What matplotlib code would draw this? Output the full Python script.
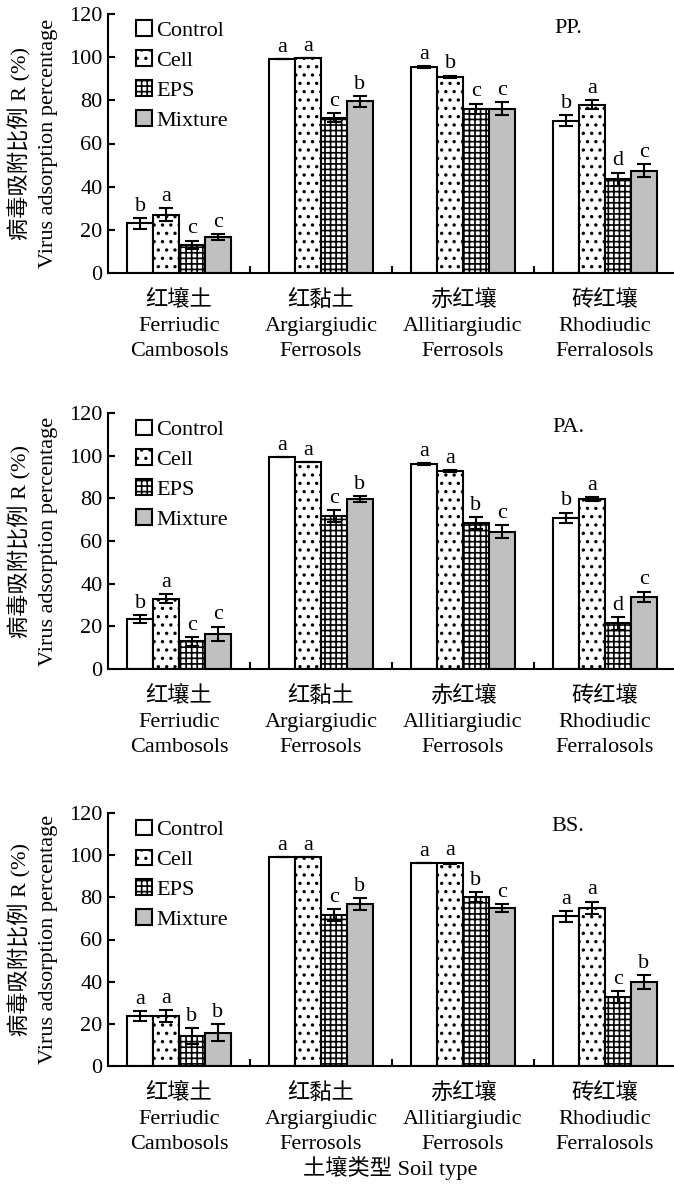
import numpy as np
import matplotlib
matplotlib.use('Agg')
import matplotlib.pyplot as plt

plt.rcParams['font.family'] = ['Liberation Serif', 'Noto Sans CJK SC']
plt.rcParams['hatch.linewidth'] = 1.2
plt.rcParams['font.size'] = 16

# soil types (x categories)
soils = ['红壤土\nFerriudic\nCambosols',
         '红黏土\nArgiargiudic\nFerrosols',
         '赤红壤\nAllitiargiudic\nFerrosols',
         '砖红壤\nRhodiudic\nFerralosols']
treatments = ['Control', 'Cell', 'EPS', 'Mixture']
panel_names = ['PP.', 'PA.', 'BS.']

# values [panel][treatment][soil]
pp_vals = [[23.1, 99.0, 95.5, 70.5],
           [27.0, 99.5, 91.0, 78.0],
           [13.0, 72.0, 76.0, 43.5],
           [16.7, 79.6, 76.0, 47.3]]
pp_errs = [[2.5, 0.0, 0.5, 2.5],
           [3.0, 0.0, 0.5, 2.0],
           [2.0, 2.0, 2.5, 3.0],
           [1.5, 2.5, 3.0, 3.0]]
pp_letters = [['b', 'a', 'a', 'b'],
              ['a', 'a', 'b', 'a'],
              ['c', 'c', 'c', 'd'],
              ['c', 'b', 'c', 'c']]

pa_vals = [[23.4, 99.4, 96.1, 70.8],
           [33.0, 97.0, 92.9, 79.7],
           [13.0, 71.7, 68.4, 21.4],
           [16.4, 79.6, 64.3, 33.8]]
pa_errs = [[2.0, 0.0, 0.3, 2.5],
           [2.0, 0.0, 0.5, 1.0],
           [2.0, 3.0, 3.0, 3.0],
           [3.5, 1.5, 3.0, 2.5]]
pa_letters = [['b', 'a', 'a', 'b'],
              ['a', 'a', 'a', 'a'],
              ['c', 'c', 'b', 'd'],
              ['c', 'b', 'c', 'c']]

bs_vals = [[23.7, 99.0, 96.2, 71.0],
           [23.7, 99.0, 96.2, 75.0],
           [14.2, 71.6, 80.1, 32.7],
           [15.7, 76.8, 75.0, 39.8]]
bs_errs = [[2.5, 0.0, 0.0, 2.5],
           [3.0, 0.0, 0.3, 3.0],
           [4.0, 3.0, 2.5, 3.0],
           [4.0, 3.0, 2.0, 3.5]]
bs_letters = [['a', 'a', 'a', 'a'],
              ['a', 'a', 'a', 'a'],
              ['b', 'c', 'b', 'c'],
              ['b', 'b', 'c', 'b']]

all_vals = [pp_vals, pa_vals, bs_vals]
all_errs = [pp_errs, pa_errs, bs_errs]
all_letters = [pp_letters, pa_letters, bs_letters]

colors = ['white', 'white', 'white', '#c0c0c0']
hatches = [None, '..', '+++', None]

fig = plt.figure(figsize=(6.74, 11.88), dpi=100)
# axes boxes in pixels: (bottom_px, top_px)
boxes = [(273, 14), (669, 413), (1066, 813)]
W, H = 674, 1188
left_px, right_px = 108, 676

x = np.arange(len(soils))
bw = 0.182

for p in range(3):
    b, t = boxes[p]
    ax = fig.add_axes([left_px / W, 1 - b / H, (right_px - left_px) / W, (b - t) / H])
    for i in range(4):
        xs = x + (i - 1.5) * bw
        ax.bar(xs, all_vals[p][i], bw, color=colors[i], edgecolor='black',
               linewidth=1.5, hatch=hatches[i], label=treatments[i], zorder=2)
        ax.errorbar(xs, all_vals[p][i], yerr=all_errs[p][i], fmt='none',
                    ecolor='black', elinewidth=1.5, capsize=5, capthick=1.5, zorder=3)
        for j in range(4):
            ax.text(xs[j], all_vals[p][i][j] + all_errs[p][i][j] + 1.0,
                    all_letters[p][i][j], ha='center', va='bottom', fontsize=16)
    ax.set_xlim(-0.5, 3.5)
    ax.set_ylim(0, 120)
    ax.set_yticks(range(0, 121, 20))
    ax.set_xticks(x)
    ax.set_xticklabels(soils, fontsize=16, linespacing=1.45)
    ax.set_xticks([0.5, 1.5, 2.5], minor=True)
    ax.tick_params(axis='x', which='major', length=0, pad=12)
    ax.tick_params(axis='x', which='minor', direction='in', length=5, width=1.5)
    ax.tick_params(axis='y', direction='in', length=5, width=1.5, labelsize=16, pad=4)
    ax.spines['top'].set_visible(False)
    ax.spines['right'].set_visible(False)
    ax.spines['left'].set_linewidth(1.5)
    ax.spines['bottom'].set_linewidth(1.5)
    ax.set_ylabel('病毒吸附比例 R (%)\nVirus adsorption percentage', fontsize=16,
                  linespacing=1.55, labelpad=8)
    ax.text(0.81, 0.945, panel_names[p], transform=ax.transAxes, ha='center',
            va='center', fontsize=16)
    ax.legend(loc='upper left', bbox_to_anchor=(0.022, 1.035), frameon=False,
              handlelength=0.7, handleheight=0.7, handletextpad=0.2,
              labelspacing=0.42, fontsize=16, borderpad=0.2)

fig.text(390 / W, 1 - 1168 / H, '土壤类型 Soil type', ha='center', va='center', fontsize=16)
fig.savefig('out.png', dpi=100)
